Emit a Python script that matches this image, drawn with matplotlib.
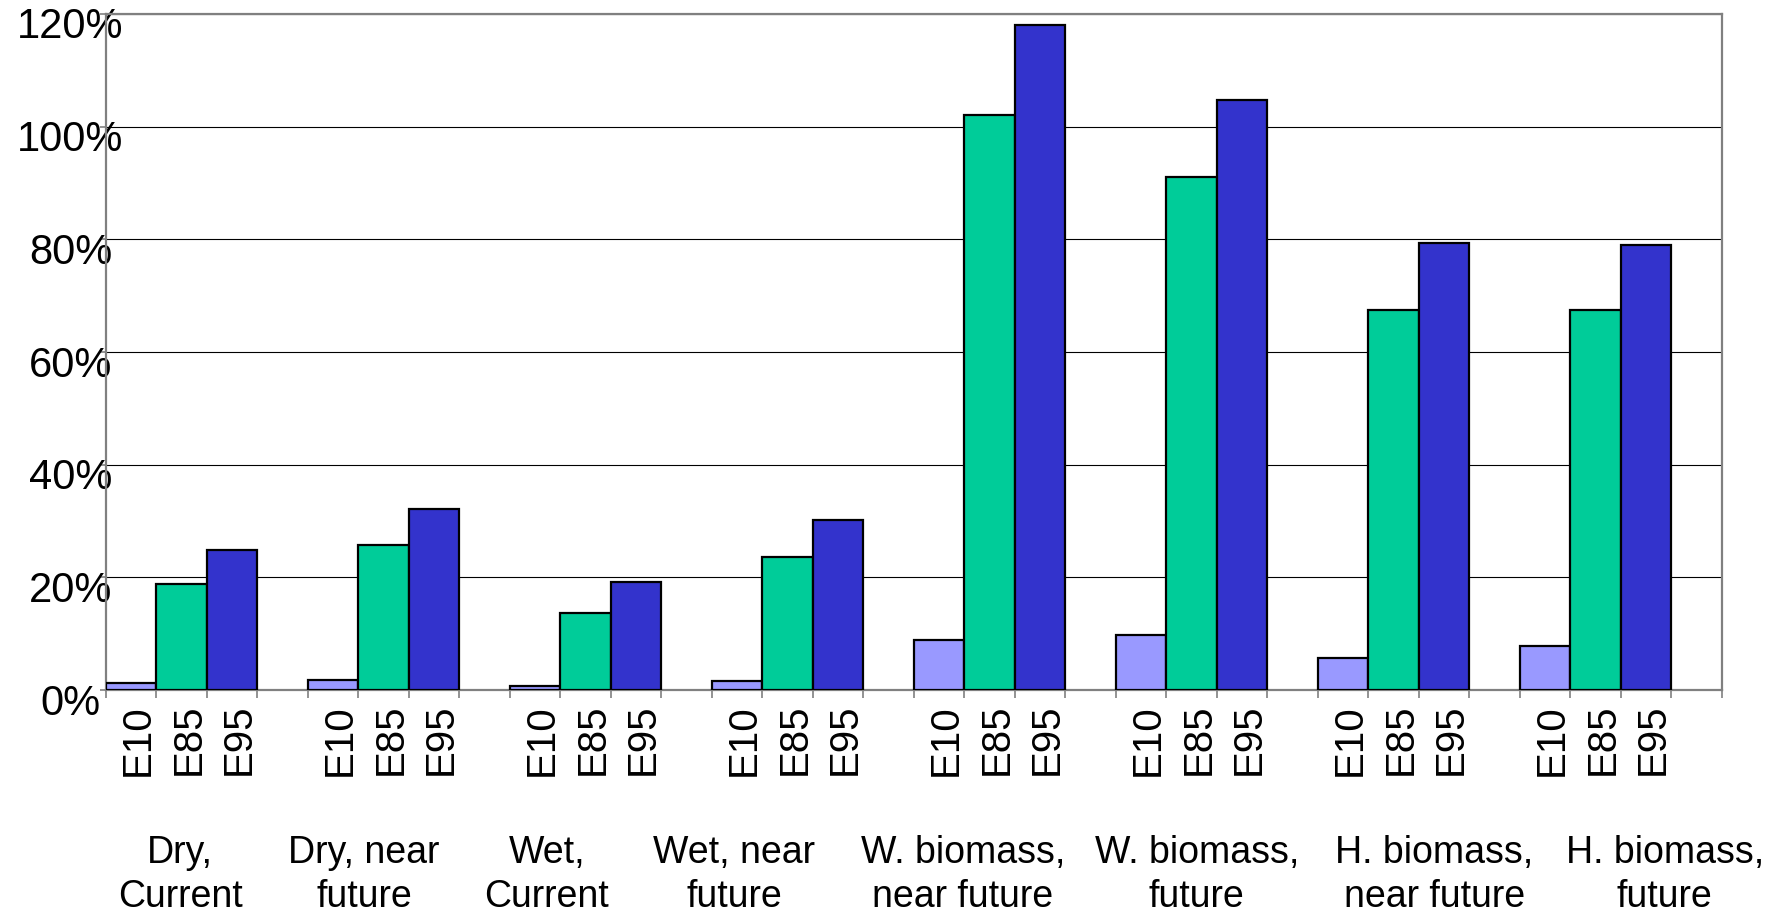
import numpy as np
import matplotlib
matplotlib.use("Agg")
import matplotlib.pyplot as plt
from matplotlib.ticker import FuncFormatter
from matplotlib.transforms import ScaledTranslation

plt.rcParams['font.family'] = ['Liberation Sans', 'DejaVu Sans']

# data
categories = ['Dry,\nCurrent', 'Dry, near\nfuture', 'Wet,\nCurrent', 'Wet, near\nfuture',
              'W. biomass,\nnear future', 'W. biomass,\nfuture', 'H. biomass,\nnear future',
              'H. biomass,\nfuture']
blends = ['E10', 'E85', 'E95']
e10 = [1.3, 1.7, 0.8, 1.6, 8.9, 9.7, 5.7, 7.8]
e85 = [18.8, 25.7, 13.7, 23.6, 102.0, 91.1, 67.5, 67.5]
e95 = [24.9, 32.1, 19.2, 30.1, 118.0, 104.8, 79.4, 79.0]
colors = ['#9999FF', '#00CC99', '#3333CC']

# category label centres (in bar-slot units)
label_x = [1.47, 5.11, 8.73, 12.44, 16.97, 21.6, 26.3, 30.87]

fig = plt.figure(figsize=(17.84, 9.13), dpi=100)
ax = fig.add_axes([0.0594, 0.2442, 0.9058, 0.7405])

series = [e10, e85, e95]
n = len(categories)
for i, (vals, col) in enumerate(zip(series, colors)):
    x = np.arange(n) * 4 + i + 0.5
    ax.bar(x, vals, width=1.0, color=col, edgecolor='black', linewidth=1.6, zorder=3)

ax.set_xlim(0, 4 * n)
ax.set_ylim(0, 120)
ax.set_yticks(np.arange(0, 121, 20))
ax.yaxis.set_major_formatter(FuncFormatter(lambda v, p: f'{v:.0f}%'))
ax.grid(axis='y', color='black', linewidth=0.8, zorder=0)
ax.set_axisbelow(True)

for s in ax.spines.values():
    s.set_color('#808080')
    s.set_linewidth(1.6)

# x ticks at every slot boundary, E labels under bars
ax.set_xticks(np.arange(0, 4 * n + 1))
ax.set_xticklabels([])
bar_pos = [4 * g + i + 0.5 for g in range(n) for i in range(3)]
ax.set_xticks(bar_pos, minor=True)
ax.set_xticklabels(blends * n, minor=True, rotation=90, fontsize=29, va='top')
ax.tick_params(axis='x', which='major', direction='out', length=6, color='#808080', width=1.2)
ax.tick_params(axis='x', which='minor', length=0, pad=10)
for lab in ax.get_xticklabels(minor=True):
    lab.set_transform(lab.get_transform() + ScaledTranslation(0.07, 0, fig.dpi_scale_trans))

ax.tick_params(axis='y', direction='out', length=4, color='#808080', width=1.2,
               labelsize=30, pad=21.5)
for lab in ax.get_yticklabels():
    lab.set_horizontalalignment('center')
    lab.set_transform(lab.get_transform() + ScaledTranslation(0, -0.09, fig.dpi_scale_trans))

for cx, cat in zip(label_x, categories):
    ax.text(cx, -0.274, cat, transform=ax.get_xaxis_transform(), ha='center', va='center',
            fontsize=27, linespacing=1.29)

fig.savefig('out.png', dpi=100)
